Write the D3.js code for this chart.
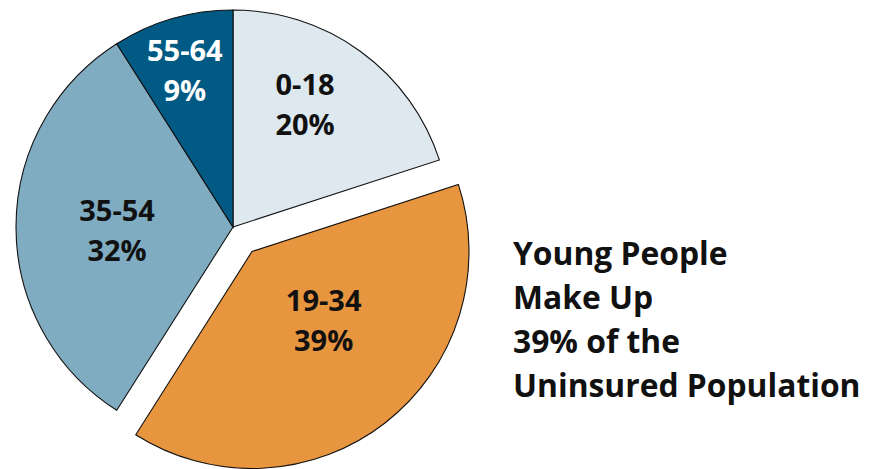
<!DOCTYPE html>
<html><head><meta charset="utf-8">
<script src="https://cdn.jsdelivr.net/npm/d3@7"></script>
<style>body{margin:0;background:#fff}svg{display:block}</style>
</head><body>
<svg id="c" width="873" height="469"></svg>
<script>
const categories = ["0-18", "19-34", "35-54", "55-64"];
const values = [20, 39, 32, 9];
const colors = ["#dde8ef", "#e8953f", "#80acc2", "#005a84"];
const labelColors = ["#111", "#111", "#111", "#fff"];
const exploded = [false, true, false, false];
const titleLines = ["Young People", "Make Up", "39% of the", "Uninsured Population"];

// layout (not data)
const cx = 233, cy = 227, R = 217, explode = 31;
const labelR = [142, 100, 116, 163];
const labelShift = [-5.5, -8, -1.8, -1]; // degrees

const svg = d3.select("#c");
const data = categories.map((c, i) => ({cat: c, val: values[i], i}));
const pie = d3.pie().value(d => d.val).sort(null);
const arcs = pie(data);
const arc = d3.arc().innerRadius(0).outerRadius(R);
const g = svg.append("g").attr("transform", `translate(${cx},${cy})`);

const slice = g.selectAll("g.s").data(arcs).join("g").attr("class", "s")
  .attr("transform", d => {
    if (!exploded[d.data.i]) return null;
    const a = (d.startAngle + d.endAngle) / 2;
    return `translate(${Math.sin(a) * explode},${-Math.cos(a) * explode})`;
  });
slice.append("path").attr("d", arc)
  .attr("fill", d => colors[d.data.i])
  .attr("stroke", "#111").attr("stroke-width", 1.1).attr("stroke-linejoin", "miter");

const font = "'Open Sans', 'Liberation Sans', sans-serif";
slice.each(function(d) {
  const i = d.data.i;
  const a = (d.startAngle + d.endAngle) / 2 + labelShift[i] * Math.PI / 180;
  const x = Math.sin(a) * labelR[i], y = -Math.cos(a) * labelR[i];
  const t = d3.select(this).append("text")
    .attr("text-anchor", "middle").attr("fill", labelColors[i])
    .attr("font-family", font).attr("font-weight", 700).attr("font-size", 29);
  t.append("tspan").attr("x", x).attr("y", y - 10).text(d.data.cat);
  t.append("tspan").attr("x", x).attr("y", y + 30).text(d.data.val + "%");
});

const tt = svg.append("text").attr("font-family", font).attr("font-weight", 700)
  .attr("font-size", 31.8).attr("fill", "#111");
titleLines.forEach((l, k) => tt.append("tspan").attr("x", 513).attr("y", 265 + k * 44).text(l));
</script>
</body></html>
